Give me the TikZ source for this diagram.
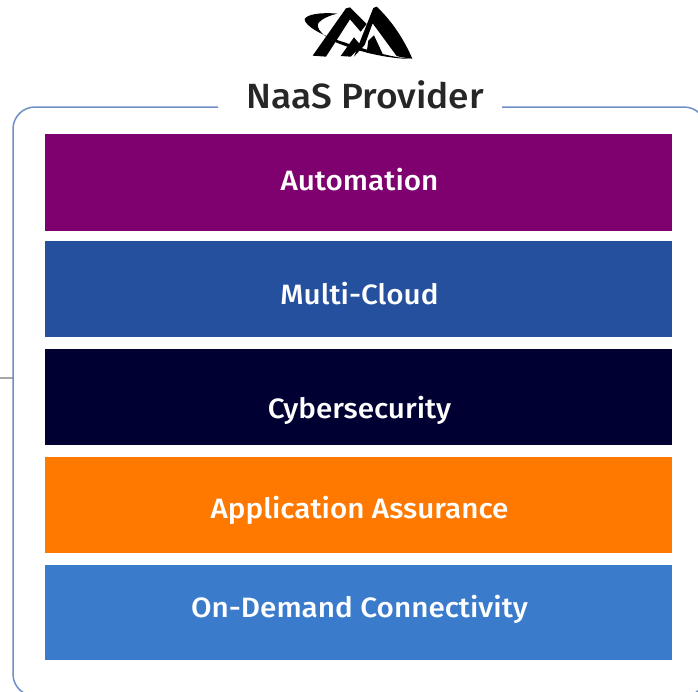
\documentclass[tikz,border=0pt]{standalone}
\usepackage{fontspec}
\setmainfont{Fira Sans}[UprightFont=* Medium,FakeStretch=1.06]
\definecolor{framec}{HTML}{6F8FC4}
\definecolor{cAuto}{HTML}{7F006F}
\definecolor{cMulti}{HTML}{24509E}
\definecolor{cCyber}{HTML}{000033}
\definecolor{cApp}{HTML}{FF7900}
\definecolor{cConn}{HTML}{3B7BCB}
\tikzset{
  layer/.style={draw=none,minimum width=627pt,inner sep=0pt,anchor=north west},
  layertext/.style={inner sep=0pt,font=\fontsize{28}{30}\selectfont,text=white,anchor=base},
  frameline/.style={draw=framec,line width=1.5pt},
}
\begin{document}
\begin{tikzpicture}[x=1pt,y=1pt]
\useasboundingbox (0,0) rectangle (698,-691);
\clip (0,0) rectangle (698,-691);
\coordinate (stub) at (0,-378);
\coordinate (framewest) at (13,-378);
\draw[gray!70,line width=2.2pt] (stub) -- (framewest);
\draw[frameline,rounded corners=22pt] (218,-107) -- (13,-107) -- (13,-696) -- (706,-696) -- (706,-107) -- (502,-107);
\node[layer,fill=cAuto,minimum height=97pt] (auto) at (45,-134) {};
\node[layer,fill=cMulti,minimum height=96pt] (multi) at (45,-241) {};
\node[layer,fill=cCyber,minimum height=96pt] (cyber) at (45,-349) {};
\node[layer,fill=cApp,minimum height=96pt] (app) at (45,-457) {};
\node[layer,fill=cConn,minimum height=95pt] (conn) at (45,-565) {};
\node[layertext] (autoT) at (359.5,-190) {Automation};
\node[layertext] (multiT) at (359.5,-304) {Multi-Cloud};
\node[layertext] (cyberT) at (359.5,-418) {Cybersecurity};
\node[layertext] (appT) at (359.5,-518) {Application Assurance};
\node[layertext] (connT) at (359.5,-617) {On-Demand Connectivity};
\node[font=\fontsize{35}{37}\selectfont,text=black!85,inner sep=0pt,anchor=base] (title) at (365,-108) {NaaS Provider};
\begin{scope}[shift={(200,0)},x=0.3333pt,y=-0.3333pt]
% left stroke with right-hand stub
\fill[black] (338,167) -- (438,25) -- (450,22) -- (500,72) -- (482,95) -- (450,58) -- (378,170) -- cycle;
% small inner triangle
\fill[black] (422,168) -- (462,112) -- (484,138) -- (452,170) -- cycle;
% second A
\fill[black] (462,170) -- (520,24) -- (530,20) .. controls (575,62) and (612,118) .. (637,176) -- (605,172) -- (590,168) -- (518,70) -- (494,135) -- cycle;
\fill[black] (505,122) -- (522,106) -- (550,166) -- (500,158) -- cycle;
% swoosh
\fill[black] (412,41) .. controls (360,36) and (318,44) .. (314,58) .. controls (314,76) and (362,106) .. (430,126) .. controls (500,150) and (570,172) .. (637,177) .. controls (560,176) and (480,156) .. (410,128) .. controls (370,110) and (345,84) .. (356,68) .. controls (366,56) and (390,46) .. (412,41) -- cycle;
\end{scope}
\end{tikzpicture}
\end{document}
